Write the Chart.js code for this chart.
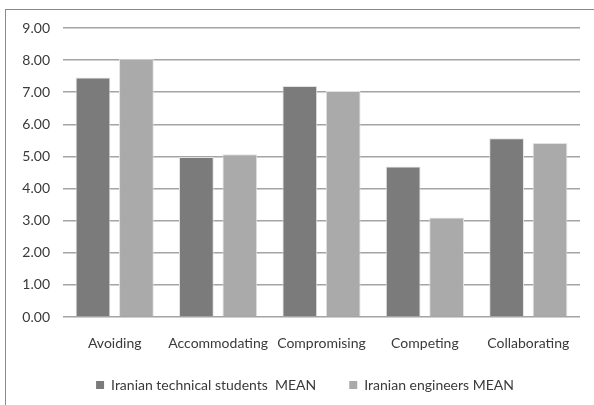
<!DOCTYPE html>
<html>
<head>
<meta charset="utf-8">
<script src="https://cdn.jsdelivr.net/npm/chart.js@4"></script>
<style>
  html, body { margin: 0; padding: 0; background: #fff; }
  #wrap { position: relative; width: 594px; height: 405px; }
  #frame { position: absolute; left: 5px; top: 9px; right: -2px; bottom: -2px;
           border-left: 1.5px solid #8a8a8a; border-top: 1.5px solid #8a8a8a; pointer-events: none; }
  canvas { position: absolute; left: 0; top: 0; }
</style>
</head>
<body>
<div id="wrap">
  <canvas id="c" width="594" height="405"></canvas>
  <div id="frame"></div>
</div>
<script>
// Conflict-handling styles and the mean score of each group
const categories = ['Avoiding', 'Accommodating', 'Compromising', 'Competing', 'Collaborating'];
const studentsMean = [7.46, 4.98, 7.19, 4.69, 5.57];
const engineersMean = [8.04, 5.07, 7.04, 3.10, 5.42];
const seriesNames = ['Iranian technical students  MEAN', 'Iranian engineers MEAN'];
const yTicks = [0, 1, 2, 3, 4, 5, 6, 7, 8, 9];

const font = { family: 'Lato, "Open Sans", sans-serif', size: 14 };

// Legend sits in a fixed-height band under the axis labels, nudged a bit right
const legendBand = {
  id: 'legendBand',
  beforeLayout(chart) {
    const lg = chart.legend;
    if (lg && !lg._bandFit) {
      const fit = lg.fit;
      lg.fit = function () { fit.call(this); this.height = 55; };
      lg._bandFit = true;
    }
  },
  afterUpdate(chart) {
    const lg = chart.legend;
    if (!lg) return;
    lg.left += 15; lg.right += 15;
    lg.top -= 5; lg.bottom -= 5;
    lg.adjustHitBoxes();
  }
};

new Chart(document.getElementById('c'), {
  type: 'bar',
  data: {
    labels: categories,
    datasets: [
      { label: seriesNames[0], data: studentsMean, backgroundColor: '#7b7b7b',
        borderColor: '#e2e2e2', borderWidth: 1,
        categoryPercentage: 0.84, barPercentage: 0.8 },
      { label: seriesNames[1], data: engineersMean, backgroundColor: '#aaaaaa',
        borderColor: '#e2e2e2', borderWidth: 1,
        categoryPercentage: 0.84, barPercentage: 0.8 }
    ]
  },
  plugins: [legendBand],
  options: {
    responsive: false,
    animation: false,
    layout: { padding: { top: 28, left: 0, right: 14, bottom: 0 } },
    plugins: {
      tooltip: { enabled: false },
      legend: {
        position: 'bottom',
        labels: { font: font, color: '#3a3a3a', boxWidth: 8, boxHeight: 8, padding: 33,
                  generateLabels: (chart) => chart.data.datasets.map((d, i) => ({
                    text: d.label, fillStyle: d.backgroundColor, strokeStyle: d.backgroundColor,
                    lineWidth: 0, hidden: false, datasetIndex: i, fontColor: '#3a3a3a'
                  })) }
      }
    },
    scales: {
      x: {
        grid: { display: false },
        border: { display: false },
        ticks: { font: font, color: '#3a3a3a', padding: 10, maxRotation: 0, autoSkip: false },
        afterFit: (s) => { s.height = 33; }
      },
      y: {
        min: 0, max: 9,
        afterBuildTicks: (s) => { s.ticks = yTicks.map(v => ({ value: v })); },
        grid: { color: '#a4a4a4', lineWidth: 1.5, drawTicks: false },
        border: { display: false },
        ticks: { font: font, color: '#3a3a3a', padding: 13,
                 callback: (v) => Number(v).toFixed(2) },
        afterFit: (s) => { s.width = 63; }
      }
    }
  }
});
</script>
</body>
</html>
